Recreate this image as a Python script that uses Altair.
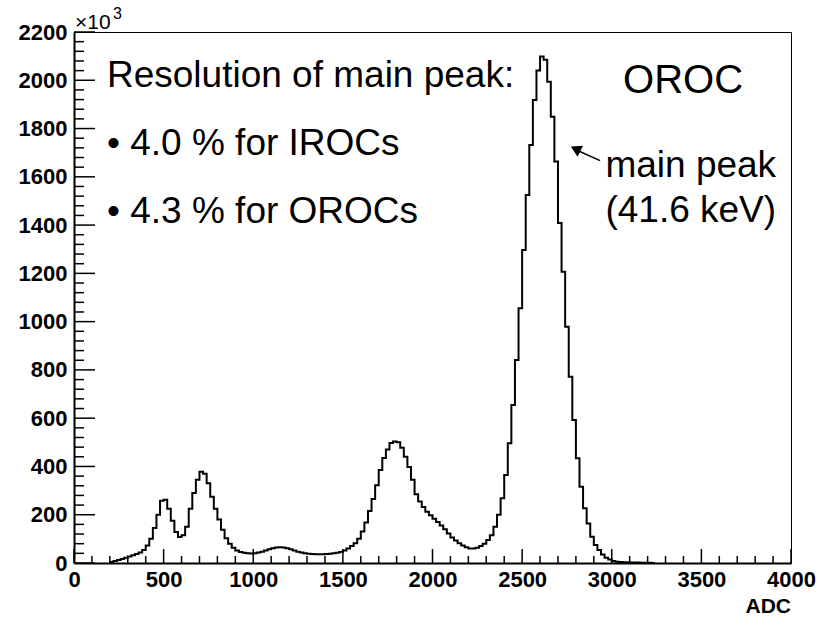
import altair as alt
import pandas as pd

# ---- histogram data (counts in units of 10^3, 20-ADC bins starting at 200 ADC) ----
bin_start = 200
bin_width = 20
counts = [
    4, 8, 12, 17, 22, 27, 32, 37, 44, 54,            # 200-380
    72, 100, 145, 200, 258, 262, 225, 175, 128, 108,  # 400-580
    115, 150, 225, 290, 345, 378, 370, 330, 275, 225, # 600-780
    180, 138, 103, 80, 63, 52, 46, 42, 40, 39,        # 800-980
    40, 43, 47, 52, 57, 61, 64, 65, 64, 61,           # 1000-1180
    57, 52, 47, 43, 40, 38, 37, 36, 36, 36,           # 1200-1380
    37, 38, 40, 42, 46, 52, 60, 70, 82, 100,          # 1400-1580
    130, 168, 215, 265, 322, 385, 435, 470, 497, 503, # 1600-1780
    500, 478, 440, 398, 345, 285, 255, 232, 212, 198, # 1800-1980
    183, 170, 155, 140, 122, 106, 93, 82, 72, 65,     # 2000-2180
    60, 60, 63, 70, 80, 95, 115, 150, 200, 268,       # 2200-2380
    365, 496, 655, 841, 1055, 1297, 1525, 1732, 1918, 2040,  # 2400-2580
    2098, 2085, 1994, 1849, 1663, 1409, 1207, 979, 772, 592, # 2600-2780
    434, 316, 227, 164, 109, 75, 54, 35, 22, 14,      # 2800-2980
    8, 5, 4, 3, 3, 2, 2, 2, 1, 1,                     # 3000-3180
    1, 0,                                             # 3200-3220
]
edges = [bin_start + bin_width * i for i in range(len(counts) + 1)]
hist = pd.DataFrame({"adc": edges, "n": counts + [counts[-1]]})

# ---- axis tick values ----
y_major = list(range(0, 2201, 200))
y_minor = [v for v in range(0, 2201, 40) if v % 200 != 0]
x_major = list(range(0, 4001, 500))
x_minor = [v for v in range(0, 4001, 100) if v % 500 != 0]

# ---- annotation texts (positions in data units) ----
ann_text = ["Resolution of main peak:", "\u2022 4.0 % for IROCs", "\u2022 4.3 % for OROCs"]
ann_x = [184, 184, 184]
ann_y = [1972, 1690, 1409]

right_text = ["main peak", "(41.6 keV)"]
right_x = [3917, 3917]
right_y = [1599, 1413]

W, H = 717, 531
FONT = "Liberation Sans"

xs = alt.Scale(domain=[0, 4000], nice=False)
ys = alt.Scale(domain=[0, 2200], nice=False)

x_axis = alt.Axis(values=x_major, format="d", title=None)
y_axis = alt.Axis(values=y_major, format="d", title=None)


def X(field="adc:Q"):
    return alt.X(field, scale=xs, axis=x_axis)


def Y(field="n:Q"):
    return alt.Y(field, scale=ys, axis=y_axis)


line = alt.Chart(hist).mark_line(interpolate="step-after", color="black",
                                 strokeWidth=2).encode(x=X(), y=Y())

ymaj = alt.Chart(pd.DataFrame({"n": y_major})).mark_rule(color="black", strokeWidth=1.5).encode(
    y=Y(), x=alt.value(0), x2=alt.value(21))
ymin = alt.Chart(pd.DataFrame({"n": y_minor})).mark_rule(color="black", strokeWidth=1.5).encode(
    y=Y(), x=alt.value(0), x2=alt.value(10))
xmaj = alt.Chart(pd.DataFrame({"adc": x_major})).mark_rule(color="black", strokeWidth=1.5).encode(
    x=X(), y=alt.value(H), y2=alt.value(H - 14))
xmin = alt.Chart(pd.DataFrame({"adc": x_minor})).mark_rule(color="black", strokeWidth=1.5).encode(
    x=X(), y=alt.value(H), y2=alt.value(H - 7))

left_txt = alt.Chart(pd.DataFrame({"adc": ann_x, "n": ann_y, "t": ann_text})).mark_text(
    font=FONT, fontSize=37, align="left", baseline="alphabetic", color="black").encode(
    x=X(), y=Y(), text="t:N")

right_txt = alt.Chart(pd.DataFrame({"adc": right_x, "n": right_y, "t": right_text})).mark_text(
    font=FONT, fontSize=37, align="right", baseline="alphabetic", color="black").encode(
    x=X(), y=Y(), text="t:N")

oroc = alt.Chart(pd.DataFrame({"adc": [3398], "n": [1947], "t": ["OROC"]})).mark_text(
    font=FONT, fontSize=40, align="center", baseline="alphabetic", color="black").encode(
    x=X(), y=Y(), text="t:N")

# x10^3 multiplier and axis title
mult = alt.Chart(pd.DataFrame({"adc": [6], "n": [2212], "t": ["\u00d710"]})).mark_text(
    font=FONT, fontSize=21, align="left", baseline="alphabetic", color="black").encode(
    x=X(), y=Y(), text="t:N")
sup = alt.Chart(pd.DataFrame({"adc": [218], "n": [2252], "t": ["3"]})).mark_text(
    font=FONT, fontSize=16, align="left", baseline="alphabetic", color="black").encode(
    x=X(), y=Y(), text="t:N")
xtitle = alt.Chart(pd.DataFrame({"adc": [4000], "n": [-207], "t": ["ADC"]})).mark_text(
    font=FONT, fontSize=21, fontWeight="bold", align="right", baseline="alphabetic",
    color="black").encode(x=X(), y=Y(), text="t:N")

# arrow pointing to main peak
arrow_df = pd.DataFrame({"adc": [2935], "n": [1667], "adc2": [2800], "n2": [1712]})
arrow_line = alt.Chart(arrow_df).mark_rule(color="black", strokeWidth=1.5).encode(
    x=X(), y=Y(), x2="adc2:Q", y2="n2:Q")
head = alt.Chart(pd.DataFrame({"adc": [2798], "n": [1716]})).mark_point(
    shape="triangle-up", filled=True, color="black", size=150, angle=296, opacity=1).encode(
    x=X(), y=Y())

chart = alt.layer(line, ymaj, ymin, xmaj, xmin, left_txt, right_txt, oroc, mult, sup,
                  xtitle, arrow_line, head).properties(
    width=W, height=H,
    autosize=alt.AutoSizeParams(type="none"),
    padding={"left": 74, "top": 32, "right": 32, "bottom": 55},
    background="white",
).configure_view(stroke="black", strokeWidth=1).configure_axis(
    ticks=False, grid=False, domainWidth=2, domainColor="black",
    labelFont=FONT, labelFontSize=22, labelFontWeight="bold", labelColor="black",
    labelFlush=False,
).configure_axisX(labelPadding=6).configure_axisY(labelPadding=7)

chart.save("out.html", embed_options={"renderer": "svg", "actions": False})
